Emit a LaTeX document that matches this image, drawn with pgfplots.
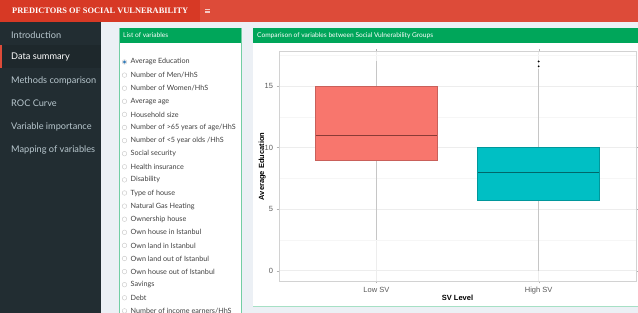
\documentclass[border=0pt]{standalone}
\usepackage{fontspec}
\setmainfont{Liberation Sans}
\newfontfamily\ui{Lato}
\newfontfamily\titlef{Liberation Serif}
\usepackage{pgfplots}
\pgfplotsset{compat=1.18}
\usepgfplotslibrary{statistics}
\definecolor{hdr}{HTML}{DD4B39}
\definecolor{hdrdark}{HTML}{D73925}
\definecolor{side}{HTML}{222D32}
\definecolor{sideact}{HTML}{1E282C}
\definecolor{sidetxt}{HTML}{B8C7CE}
\definecolor{bgc}{HTML}{ECF0F5}
\definecolor{boxgreen}{HTML}{00A65A}
\definecolor{lowsv}{HTML}{F8766D}
\definecolor{lowsvdark}{HTML}{C9605A}
\definecolor{lowsvmed}{HTML}{8A3B36}
\definecolor{highsv}{HTML}{00BFC4}
\definecolor{highsvdark}{HTML}{00979B}
\definecolor{highsvmed}{HTML}{00676A}
\definecolor{radioblue}{HTML}{337AB7}
\begin{document}
\begin{tikzpicture}
\path[use as bounding box] (0pt,0pt) rectangle (638pt,313pt);
\begin{scope}[x=1pt,y=1pt]
\fill[bgc] (0,0) rectangle (638,313);
% header
\fill[hdr] (0,291) rectangle (638,313);
\fill[hdrdark] (0,291) rectangle (200,313);
\node[anchor=west, text=white, inner sep=0pt, font=\titlef\bfseries\fontsize{8.4}{10}\selectfont] at (12,302) {PREDICTORS OF SOCIAL VULNERABILITY};
\foreach \yy in {300.3,302,303.7} \fill[white!70!hdr] (205,\yy-0.35) rectangle (209.5,\yy+0.35);
% sidebar
\fill[side] (0,0) rectangle (101,291);
\fill[sideact] (0,245) rectangle (101,268);
\fill[hdr] (0,245) rectangle (1.5,268);
\begin{scope}[every node/.style={anchor=west, inner sep=0pt, font=\ui\fontsize{9.2}{11}\selectfont, text=sidetxt}]
\node at (11,278) {Introduction};
\node[text=white] at (11,256) {Data summary};
\node at (11,232.5) {Methods comparison};
\node at (11,209.5) {ROC Curve};
\node at (11,186.5) {Variable importance};
\node at (11,163) {Mapping of variables};
\end{scope}
% left box
\fill[white] (119,0) rectangle (242,285);
\fill[boxgreen] (119,269.5) rectangle (242,285);
\draw[boxgreen!55, line width=0.8pt] (119.4,0) -- (119.4,285);
\draw[boxgreen!55, line width=0.8pt] (241.6,0) -- (241.6,285);
\node[anchor=west, inner sep=0pt, text=white, font=\ui\fontsize{6.6}{8}\selectfont] at (123,277.5) {List of variables};
\begin{scope}
\clip (119,0) rectangle (242,285);
\foreach \t [count=\i from 0] in {Average Education, Number of Men/HhS, Number of Women/HhS, Average age, Household size, Number of >65 years of age/HhS, Number of <5 year olds /HhS, Social security, Health insurance, Disability, Type of house, Natural Gas Heating, Ownership house, Own house in Istanbul, Own land in Istanbul, Own land out of Istanbul, Own house out of Istanbul, Savings, Debt, Number of income earners/HhS}{
  \pgfmathsetmacro{\yy}{251-13.1*\i}
  \draw[gray!45, line width=0.4pt, fill=white] (124.5,\yy) circle (2.3);
  \node[anchor=west, inner sep=0pt, text=black!75, font=\ui\fontsize{7.2}{8.5}\selectfont] at (130.5,\yy) {\t};
}
\fill[radioblue] (124.5,251) circle (1.7);
\end{scope}
% right box
\fill[white] (253,7) rectangle (638,285);
\fill[boxgreen] (253,269.5) rectangle (638,285);
\draw[boxgreen!35, line width=0.6pt] (253,7) -- (638,7);
\node[anchor=west, inner sep=0pt, text=white, font=\ui\fontsize{6.6}{8}\selectfont] at (257,277.5) {Comparison of variables between Social Vulnerability Groups};
\end{scope}
% plot
\begin{axis}[
  at={(279pt,32pt)}, anchor=south west, scale only axis,
  width=357pt, height=229.3pt,
  xmin=0.4, xmax=2.6, ymin=-0.84, ymax=17.79,
  xtick={1,2}, xticklabels={Low SV, High SV},
  ytick={0,5,10,15}, minor ytick={2.5,7.5,12.5,17.5},
  xmajorgrids, ymajorgrids, yminorgrids,
  major grid style={gray!14, line width=0.5pt},
  minor grid style={gray!7, line width=0.4pt},
  axis line style={gray!35},
  tick align=outside, major tick length=2.5pt, minor tick length=0pt,
  tick style={gray!60},
  xlabel={SV Level}, ylabel={Average Education},
  xlabel shift=-6pt, ylabel shift=-8pt,
  label style={font=\bfseries\fontsize{7.5}{9}\selectfont},
  ticklabel style={font=\fontsize{7.5}{8.5}\selectfont, text=black!65},
  /pgf/number format/assume math mode=true,
  boxplot/draw direction=y,
]
\addplot[boxplot prepared={draw position=1, lower whisker=2.5, lower quartile=9, median=11, upper quartile=15, upper whisker=17, box extend=0.75, whisker extend=0,
  every box/.style={draw=lowsvdark, fill=lowsv, line width=0.6pt},
  every whisker/.style={draw=gray!45, line width=0.7pt},
  every median/.style={draw=lowsvmed, line width=0.9pt}}] coordinates {};
\addplot[boxplot prepared={draw position=2, lower whisker=0, lower quartile=5.7, median=8, upper quartile=10, upper whisker=16.4, box extend=0.75, whisker extend=0,
  every box/.style={draw=highsvdark, fill=highsv, line width=0.6pt},
  every whisker/.style={draw=gray!45, line width=0.7pt},
  every median/.style={draw=highsvmed, line width=0.9pt}},
  mark=*, mark size=0.7pt, mark options={draw=black, fill=black}] coordinates {(0,16.6) (0,17)};
\end{axis}
\end{tikzpicture}
\end{document}
